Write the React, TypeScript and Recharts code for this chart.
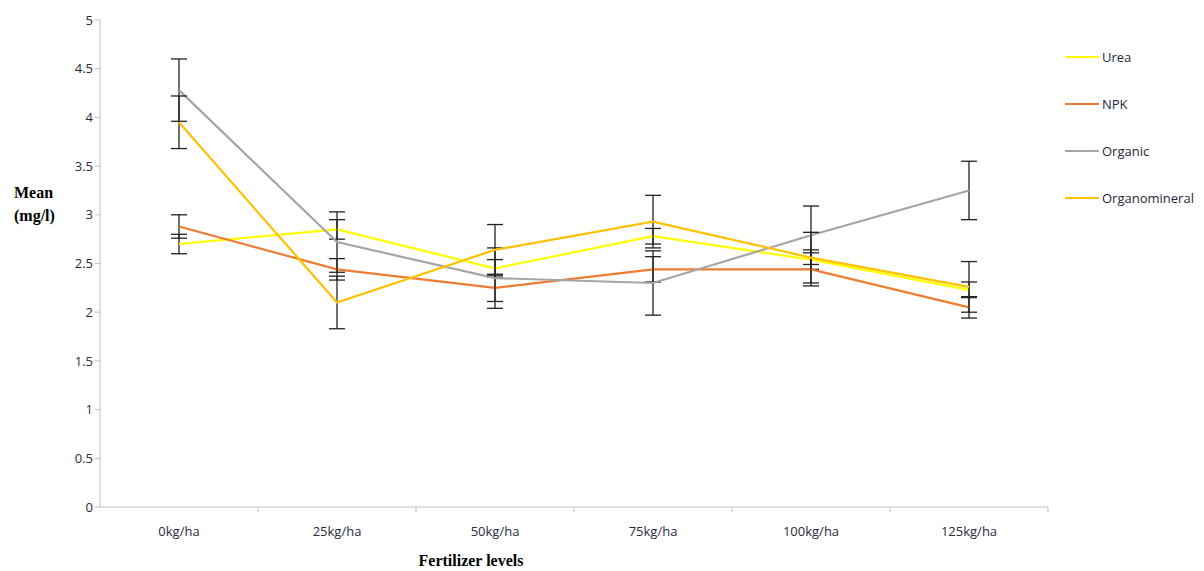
import { LineChart, Line, XAxis, YAxis, ErrorBar } from 'recharts';

const categories = ['0kg/ha', '25kg/ha', '50kg/ha', '75kg/ha', '100kg/ha', '125kg/ha'];
const urea = [2.7, 2.85, 2.45, 2.78, 2.54, 2.23];
const npk = [2.88, 2.44, 2.25, 2.44, 2.44, 2.05];
const organic = [4.28, 2.72, 2.35, 2.3, 2.79, 3.25];
const organomineral = [3.95, 2.1, 2.64, 2.93, 2.56, 2.26];
const ureaErr = [0.1, 0.1, 0.09, 0.08, 0.1, 0.08];
const npkErr = [0.12, 0.11, 0.14, 0.13, 0.17, 0.11];
const organicErr = [0.32, 0.31, 0.31, 0.33, 0.3, 0.3];
const organomineralErr = [0.27, 0.27, 0.26, 0.27, 0.26, 0.26];
const yTicks = [0, 0.5, 1, 1.5, 2, 2.5, 3, 3.5, 4, 4.5, 5];

const series = [
  { key: 'urea', name: 'Urea', color: '#FFFF00' },
  { key: 'npk', name: 'NPK', color: '#ED7D31' },
  { key: 'organic', name: 'Organic', color: '#A5A5A5' },
  { key: 'organomineral', name: 'Organomineral', color: '#FFC000' },
];

const data = categories.map((c, i) => ({
  level: c,
  urea: urea[i],
  npk: npk[i],
  organic: organic[i],
  organomineral: organomineral[i],
  ureaErr: ureaErr[i],
  npkErr: npkErr[i],
  organicErr: organicErr[i],
  organomineralErr: organomineralErr[i],
}));

const W = 1204;
const H = 571;
const margin = { top: 20, right: 156, bottom: 34, left: 60 };
const plotLeft = 100;
const step = (W - margin.right - plotLeft) / categories.length;

const font = '"Open Sans", "Liberation Sans", sans-serif';

const XTick = (props: any) => {
  const { x, y, payload } = props;
  return (
    <g>
      <line x1={x + step / 2} x2={x + step / 2} y1={y - 8} y2={y - 3} stroke="#BFBFBF" />
      <text x={x} y={y + 21} textAnchor="middle" fontSize={13} fill="#2A2A3A" fontFamily={font}>
        {payload.value}
      </text>
    </g>
  );
};

export default function App() {
  return (
    <div style={{ position: 'absolute', left: 0, top: 0, width: W, height: H, background: '#fff' }}>
      <LineChart width={W} height={H} data={data} margin={margin}>
        <XAxis
          dataKey="level"
          height={30}
          axisLine={{ stroke: '#BFBFBF' }}
          tickLine={false}
          tick={<XTick />}
          interval={0}
          padding={{ left: step / 2, right: step / 2 }}
        />
        <YAxis
          width={40}
          domain={[0, 5]}
          ticks={yTicks}
          interval={0}
          axisLine={{ stroke: '#BFBFBF' }}
          tickLine={{ stroke: '#BFBFBF' }}
          tickSize={5}
          tick={{ fontSize: 13, fill: '#2A2A3A', fontFamily: font }}
        />
        {series.map((s) => (
          <Line
            key={s.key}
            type="linear"
            dataKey={s.key}
            name={s.name}
            stroke={s.color}
            strokeWidth={2.2}
            dot={false}
            activeDot={false}
            isAnimationActive={false}
          >
            <ErrorBar
              dataKey={s.key + 'Err'}
              width={8}
              stroke="#222"
              strokeWidth={1.3}
              direction="y"
              isAnimationActive={false}
            />
          </Line>
        ))}
      </LineChart>
      <div
        style={{
          position: 'absolute',
          left: 1065,
          top: 48,
          width: 140,
          fontFamily: font,
          fontSize: 13,
          color: '#1F1F3A',
        }}
      >
        {series.map((s, i) => (
          <div key={s.key} style={{ position: 'absolute', left: 0, top: i * 47, display: 'flex', alignItems: 'center', whiteSpace: 'nowrap' }}>
            <span style={{ display: 'inline-block', width: 34, height: 2.5, background: s.color, marginRight: 3 }} />
            <span>{s.name}</span>
          </div>
        ))}
      </div>
      <div
        style={{
          position: 'absolute',
          left: 14,
          top: 181,
          fontFamily: '"Liberation Serif", serif',
          fontWeight: 'bold',
          fontSize: 16,
          lineHeight: '23px',
          color: '#000',
        }}
      >
        Mean
        <br />
        (mg/l)
      </div>
      <div
        style={{
          position: 'absolute',
          left: 0,
          width: 942,
          textAlign: 'center',
          top: 552,
          fontFamily: '"Liberation Serif", serif',
          fontWeight: 'bold',
          fontSize: 16,
          color: '#000',
        }}
      >
        Fertilizer levels
      </div>
    </div>
  );
}
